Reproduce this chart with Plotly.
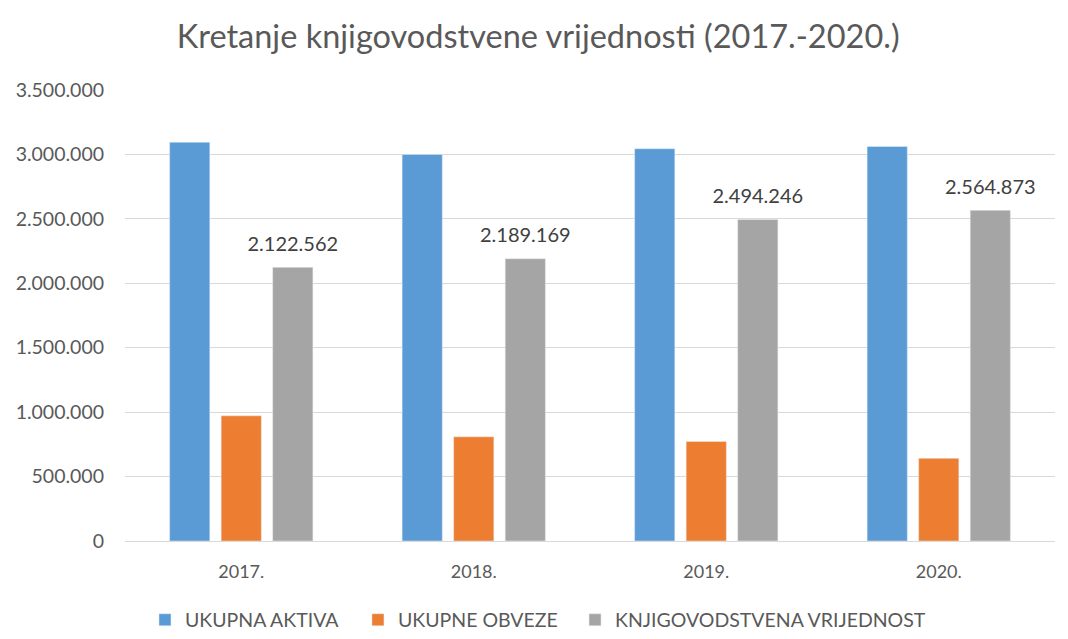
import plotly.graph_objects as go

years = ["2017.", "2018.", "2019.", "2020."]
ukupna_aktiva = [3093000, 2998000, 3043000, 3060000]
ukupne_obveze = [971000, 808000, 772000, 641000]
knjigovodstvena = [2122562, 2189169, 2494246, 2564873]
y_ticks = [0, 500000, 1000000, 1500000, 2000000, 2500000, 3000000, 3500000]

FONT = "Lato"
GREY_TEXT = "#595959"


def fmt(v):
    return f"{v:,}".replace(",", ".")


fig = go.Figure()
fig.add_trace(go.Bar(name="UKUPNA AKTIVA", x=years, y=ukupna_aktiva,
                     marker_color="#5b9bd5", legend="legend"))
fig.add_trace(go.Bar(name="UKUPNE OBVEZE", x=years, y=ukupne_obveze,
                     marker_color="#ed7d31", legend="legend2"))
fig.add_trace(go.Bar(name="KNJIGOVODSTVENA VRIJEDNOST", x=years, y=knjigovodstvena,
                     marker_color="#a5a5a5", legend="legend3",
                     text=[fmt(v) for v in knjigovodstvena],
                     # small base font -> short blank line lifts the label a little
                     texttemplate="<span style='font-size:20px'>%{text}</span><br> ",
                     textposition="outside",
                     constraintext="none",
                     textfont=dict(size=9, color="#404040", family=FONT),
                     cliponaxis=False))
for tr in fig.data:
    tr.showlegend = True

legend_style = dict(orientation="h", xanchor="left", y=-0.175, yanchor="middle",
                    font=dict(size=19.5, color=GREY_TEXT, family=FONT), itemwidth=30)

fig.update_layout(
    title=dict(text="Kretanje knjigovodstvene vrijednosti (2017.-2020.)",
               x=0.4964, xanchor="center", y=0.955, yanchor="middle",
               font=dict(size=32.5, color=GREY_TEXT, family=FONT)),
    width=1068, height=639,
    margin=dict(l=117, r=21, t=81, b=106, autoexpand=False),
    paper_bgcolor="white", plot_bgcolor="white",
    separators=",.",
    showlegend=True,
    barmode="group", bargap=0.335, bargroupgap=0.22,
    font=dict(family=FONT, color=GREY_TEXT, size=18),
    legend=dict(legend_style, x=0.0215),
    legend2=dict(legend_style, x=0.2505),
    legend3=dict(legend_style, x=0.4839),
)
fig.update_yaxes(range=[0, 3506000], tickvals=y_ticks, tickformat=",.0f",
                 showgrid=True, gridcolor="#d9d9d9", gridwidth=1,
                 zeroline=False, showline=False, ticks="", automargin=False,
                 ticklabelstandoff=20, tickfont=dict(size=19.5, color=GREY_TEXT))
fig.update_xaxes(showline=True, linecolor="#d9d9d9", linewidth=1, ticks="",
                 automargin=False,
                 ticklabelstandoff=14, tickfont=dict(size=18, color=GREY_TEXT))

fig.write_html("out.html")
